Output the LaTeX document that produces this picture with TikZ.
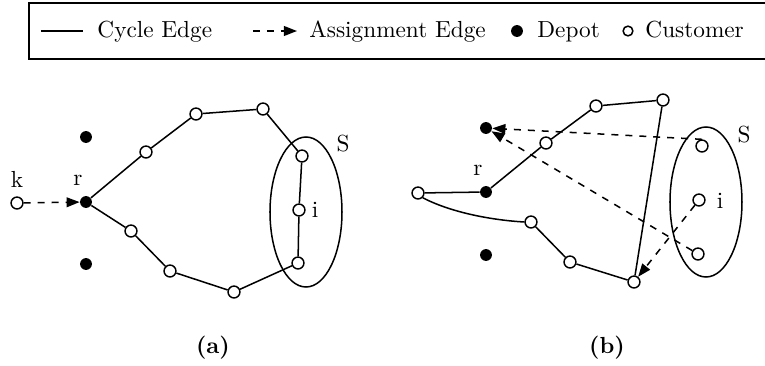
\documentclass[tikz,border=0pt]{standalone}
\usetikzlibrary{arrows.meta}
\begin{document}
\begin{tikzpicture}[x=0.43pt,y=-0.43pt,
  cust/.style={circle,draw,fill=white,line width=0.65pt,inner sep=0pt,minimum size=5.1pt},
  depot/.style={circle,fill=black,inner sep=0pt,minimum size=5.1pt},
  cyc/.style={line width=0.65pt},
  asg/.style={line width=0.65pt,dashed,-{Triangle[length=5.6pt,width=4.2pt]}},
  lbl/.style={inner sep=0pt,anchor=base},
  lgd/.style={inner sep=0pt,anchor=base west}]
\clip (0,0) rectangle (765,366);
% legend
\draw[line width=0.55pt] (29,3) rectangle (800,59);
\coordinate (l1a) at (41,31); \coordinate (l1b) at (83,31);
\draw[cyc] (l1a) -- (l1b);
\node[lgd] (t1) at (97,37) {Cycle Edge};
\coordinate (l2a) at (253,31); \coordinate (l2b) at (297,31);
\draw[asg] (l2a) -- (l2b);
\node[lgd] (t2) at (309,37) {Assignment Edge};
\node[depot] (ld) at (517,31) {};
\node[lgd] (t3) at (537,37) {Depot};
\node[cust,minimum size=4.2pt] (lc) at (628,31) {};
\node[lgd] (t4) at (645,37) {Customer};
% panel (a)
\draw[line width=0.65pt] (306,212) ellipse [x radius=36,y radius=75];
\node[depot] (ar) at (86,202) {};
\node[depot] (ad1) at (86,137) {};
\node[depot] (ad2) at (86,264) {};
\node[cust] (ak) at (17,203) {};
\node[cust] (a1) at (146,152) {};
\node[cust] (a2) at (196,114) {};
\node[cust] (a3) at (263,109) {};
\node[cust] (a4) at (302,156) {};
\node[cust] (a5) at (299,210) {};
\node[cust] (a6) at (298,263) {};
\node[cust] (a7) at (234,292) {};
\node[cust] (a8) at (170,271) {};
\node[cust] (a9) at (131,231) {};
\draw[cyc] (ar) -- (a1) -- (a2) -- (a3) -- (a4) -- (a5) -- (a6) -- (a7) -- (a8) -- (a9) -- (ar);
\draw[asg] (ak) -- (ar);
\node[lbl] (akl) at (17,187) {k};
\node[lbl] (arl) at (78,185) {r};
\node[lbl] (ail) at (315,217) {i};
\node[lbl] (asl) at (343,151) {S};
% panel (b)
\draw[line width=0.65pt] (706,202) ellipse [x radius=36,y radius=75];
\node[depot] (br) at (486,192) {};
\node[depot] (bd1) at (486,128) {};
\node[depot] (bd2) at (486,255) {};
\node[cust] (b0) at (418,193) {};
\node[cust] (b1) at (546,143) {};
\node[cust] (b2) at (596,106) {};
\node[cust] (b3) at (663,100) {};
\node[cust] (b4) at (634,282) {};
\node[cust] (b5) at (570,262) {};
\node[cust] (b6) at (531,222) {};
\node[cust] (s1) at (702,146) {};
\node[cust] (s2) at (699,200) {};
\node[cust] (s3) at (698,254) {};
\draw[cyc] (br) -- (b1) -- (b2) -- (b3) -- (b4) -- (b5) -- (b6);
\draw[cyc] (b6.west) .. controls (490,220) and (450,212) .. (b0.south east);
\draw[cyc] (b0) -- (br);
\draw[asg] (s1.north) -- (bd1);
\draw[asg] (s3) -- (bd1);
\draw[asg] (s2) -- (b4);
\node[lbl] (brl) at (478,175) {r};
\node[lbl] (bil) at (720,208) {i};
\node[lbl] (bsl) at (744,142) {S};
% captions
\node (capa) at (213,348) {\textbf{(a)}};
\node (capb) at (607,348) {\textbf{(b)}};
\end{tikzpicture}
\end{document}
